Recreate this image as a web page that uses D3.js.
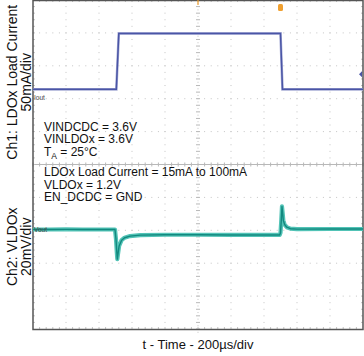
<!DOCTYPE html>
<html><head><meta charset="utf-8">
<script src="https://cdn.jsdelivr.net/npm/d3@7"></script>
<style>
html,body{margin:0;padding:0;background:#fff;}
svg{display:block;font-family:"Liberation Sans",Arial,Helvetica,sans-serif;}
</style></head>
<body>
<svg id="c" width="364" height="356"></svg>
<script>
// ---- data ----
// Ch1: LDOx load current (mA) vs time (µs)
const ch1Time = [0, 505, 520, 1500, 1512, 2000];
const ch1Current = [15, 15, 100, 100, 15, 15];
// Ch2: VLDOx deviation from 1.2 V (mV) vs time (µs)
const ch2Time = [0, 100, 200, 300, 400, 497, 503, 508, 511, 515, 522, 537, 555, 588, 650, 800, 1000, 1200, 1400, 1495, 1500, 1505, 1509, 1513, 1517, 1525, 1538, 1560, 1600, 1800, 2000];
const ch2Voltage = [0, 0, 0.1, 0, 0, 0, -6, -14, -18, -15, -10, -6.5, -5, -4, -3.4, -3.2, -3.2, -3.3, -3.3, -3.3, -2, 6, 14, 10, 5.6, 3, 1.4, 0.5, 0.2, 0.3, 0.3];
const xTickDivs = d3.range(0, 11);
const yTickDivs = d3.range(0, 11);
const legendLines = ["VINDCDC = 3.6V", "VINLDOx = 3.6V", "T_A = 25°C", "LDOx Load Current = 15mA to 100mA", "VLDOx = 1.2V", "EN_DCDC = GND"];
const xTitle = "t - Time - 200µs/div";
const ch1Title = ["Ch1: LDOx Load Current", "50mA/div"];
const ch2Title = ["Ch2: VLDOx", "20mV/div"];

// ---- layout ----
const L = 33, R = 363, T = 0, B = 329;
const svg = d3.select("#c");
const x = d3.scaleLinear().domain([0, 2000]).range([L, R]);
const div = (B - T) / 10;
const y1 = d3.scaleLinear().domain([0, 150]).range([T + 3 * div + 0.5, T + 0.5]);
const y2 = d3.scaleLinear().domain([0, 20]).range([229.5, 229.5 - div]);
const gx = d3.scaleLinear().domain([0, 10]).range([L, R]);
const gy = d3.scaleLinear().domain([0, 10]).range([T, B]);

// grid dots
const g = svg.append("g");
const dotColor = "#c4c4c4";
xTickDivs.slice(1, -1).forEach(i => {
  if (i === 5) return;
  d3.range(0, 50).forEach(k => {
    g.append("rect").attr("x", gx(i) - 0.5).attr("y", gy(k / 5) - 0.5).attr("width", 1).attr("height", 1).attr("fill", dotColor);
  });
});
yTickDivs.slice(1, -1).forEach(i => {
  if (i === 5) return;
  d3.range(0, 50).forEach(k => {
    g.append("rect").attr("x", gx(k / 5) - 0.5).attr("y", gy(i) - 0.5).attr("width", 1).attr("height", 1).attr("fill", dotColor);
  });
});
// center horizontal line with ticks
g.append("line").attr("x1", L).attr("x2", R).attr("y1", gy(5)).attr("y2", gy(5)).attr("stroke", "#b8b8b8").attr("stroke-width", 1);
d3.range(0, 51).forEach(k => {
  g.append("line").attr("x1", gx(k / 5)).attr("x2", gx(k / 5)).attr("y1", gy(5) - 2).attr("y2", gy(5) + 2).attr("stroke", "#b8b8b8").attr("stroke-width", 1);
});
// center vertical dotted with ticks
d3.range(0, 51).forEach(k => {
  g.append("line").attr("x1", gx(5) - 2).attr("x2", gx(5) + 2).attr("y1", gy(k / 5)).attr("y2", gy(k / 5)).attr("stroke", "#b8b8b8").attr("stroke-width", 1);
  g.append("rect").attr("x", gx(5) - 0.5).attr("y", gy(k / 5 + 0.1) - 0.5).attr("width", 1).attr("height", 1).attr("fill", dotColor);
});
// edge ticks
d3.range(1, 50).forEach(k => {
  g.append("line").attr("x1", gx(k / 5)).attr("x2", gx(k / 5)).attr("y1", B - 2).attr("y2", B).attr("stroke", "#c4c4c4");
  g.append("line").attr("x1", gx(k / 5)).attr("x2", gx(k / 5)).attr("y1", T).attr("y2", T + 2).attr("stroke", "#c4c4c4");
  g.append("line").attr("x1", L).attr("x2", L + 2).attr("y1", gy(k / 5)).attr("y2", gy(k / 5)).attr("stroke", "#c4c4c4");
  g.append("line").attr("x1", R - 2).attr("x2", R).attr("y1", gy(k / 5)).attr("y2", gy(k / 5)).attr("stroke", "#c4c4c4");
});

// frame
svg.append("rect").attr("x", L).attr("y", T + 0.5).attr("width", R - L).attr("height", B - T).attr("fill", "none").attr("stroke", "#555").attr("stroke-width", 1.5);

// traces
const line1 = d3.line().x((d, i) => x(ch1Time[i])).y((d) => y1(d));
svg.append("path").attr("d", line1(ch1Current)).attr("fill", "none").attr("stroke", "#a9aed6").attr("stroke-width", 2.6);
svg.append("path").attr("d", line1(ch1Current)).attr("fill", "none").attr("stroke", "#4a55a6").attr("stroke-width", 1.5);

const line2 = d3.line().x((d, i) => x(ch2Time[i])).y((d) => y2(d));
svg.append("path").attr("d", line2(ch2Voltage)).attr("fill", "none").attr("stroke", "#52c3b6").attr("stroke-width", 4.2).attr("stroke-linejoin", "round");
svg.append("path").attr("d", line2(ch2Voltage)).attr("fill", "none").attr("stroke", "#12897f").attr("stroke-width", 1.4).attr("stroke-linejoin", "round");

// markers
svg.append("rect").attr("x", x(1500) - 2.5).attr("y", 4).attr("width", 5).attr("height", 7).attr("rx", 1.5).attr("fill", "#f0a030");
svg.append("line").attr("x1", gx(5)).attr("x2", gx(5)).attr("y1", 0).attr("y2", 5).attr("stroke", "#f0a030").attr("stroke-width", 1.2);
svg.append("path").attr("d", `M${R - 1},${y1(38) - 3} L${R - 4},${y1(38)} L${R - 1},${y1(38) + 3} Z`).attr("fill", "#4a55a6");

// channel labels
svg.append("text").attr("x", L + 1).attr("y", y1(0) + 0.5).attr("font-size", 6.5).attr("fill", "#444").text("Iout");
svg.append("text").attr("x", L + 1).attr("y", y2(0) + 2.2).attr("font-size", 6.5).attr("fill", "#444").text("Vout");

// legend text
const ly = [130.5, 143, 156, 176, 188.5, 201];
legendLines.forEach((s, i) => {
  const t = svg.append("text").attr("x", 44).attr("y", ly[i]).attr("font-size", 12).attr("fill", "#111");
  if (s.startsWith("T_A")) {
    t.append("tspan").text("T");
    t.append("tspan").attr("font-size", 8.5).attr("dy", 3).text("A");
    t.append("tspan").attr("dy", -3).text(" = 25°C");
  } else t.text(s);
});

// axis titles
svg.append("text").attr("x", (L + R) / 2).attr("y", 349).attr("text-anchor", "middle").attr("font-size", 13).attr("fill", "#111").text(xTitle);
function vtitle(lines, cy) {
  lines.forEach((s, i) => {
    svg.append("text").attr("transform", `translate(${i === 0 ? 16.5 : 30.5},${cy}) rotate(-90)`).attr("text-anchor", "middle").attr("font-size", 14).attr("fill", "#111").text(s);
  });
}
vtitle(ch1Title, gy(2.5));
vtitle(ch2Title, gy(7.5));
</script>
</body></html>
